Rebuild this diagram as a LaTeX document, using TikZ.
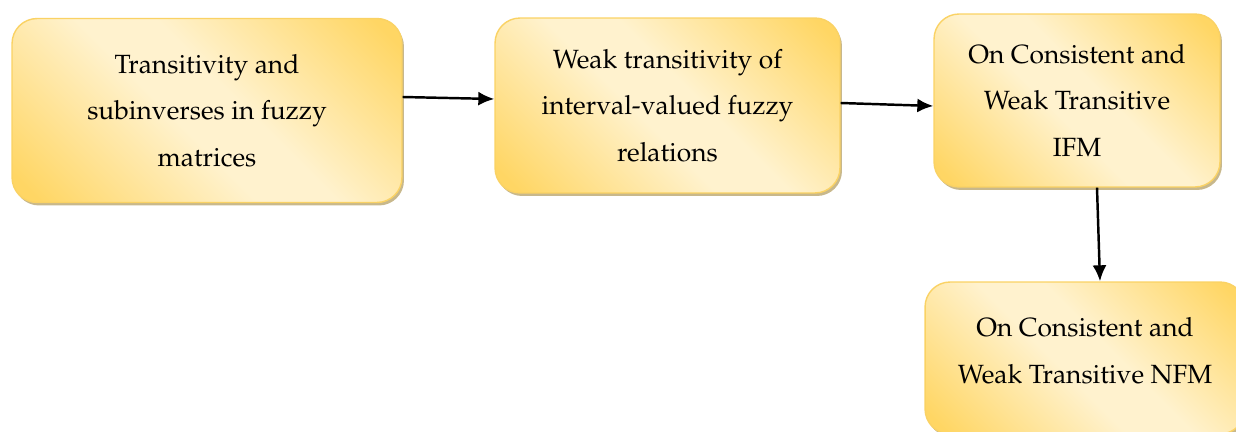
\documentclass[tikz,border=0pt]{standalone}
\usepackage[T1]{fontenc}
\usepackage{mathpazo}
\usepackage{xcolor}
\usetikzlibrary{positioning,arrows.meta,shadows}
\definecolor{golddark}{RGB}{255,214,100}
\definecolor{goldlight}{RGB}{255,242,206}
\definecolor{goldedge}{RGB}{250,210,100}
\definecolor{goldshadow}{RGB}{200,184,140}
\pgfdeclarehorizontalshading{goldband}{100bp}{color(0bp)=(golddark); color(18bp)=(golddark);
  color(45bp)=(goldlight); color(55bp)=(goldlight); color(82bp)=(golddark); color(100bp)=(golddark)}

\begin{document}
\begin{tikzpicture}[
  x=0.02cm, y=-0.02cm,
  topic/.style={draw=goldedge, line width=0.8pt, rounded corners=0.5cm, shading=goldband,
    shading angle=45, align=center, font=\fontsize{15}{26.6}\selectfont, inner sep=2pt,
    drop shadow={shadow xshift=0.04cm, shadow yshift=-0.06cm, fill=goldshadow, opacity=1}},
  arrow/.style={-{Latex[length=0.32cm, width=0.28cm]}, line width=1.4pt}
]
\useasboundingbox (0,0) rectangle (1236,432);

\node[topic, minimum width=7.8cm, minimum height=3.68cm] (fuzzy) at (207,110.5)
  {Transitivity and\\subinverses in fuzzy\\matrices};
\node[topic, minimum width=6.9cm, minimum height=3.5cm] (interval) at (667.5,105.5)
  {Weak transitivity of\\interval-valued fuzzy\\relations};
\node[topic, minimum width=5.72cm, minimum height=3.46cm] (ifm) at (1077,100.5)
  {On Consistent and\\Weak Transitive\\IFM};
\node[topic, minimum width=6.4cm, minimum height=3.04cm, text depth=0.3cm] (nfm) at (1085,358)
  {On Consistent and\\Weak Transitive NFM};

% chain of results, left to right and then down
\draw[arrow] ([yshift=0.27cm]fuzzy.east) -- ([yshift=0.13cm]interval.west);
\draw[arrow] ([yshift=0.05cm]interval.east) -- ([yshift=-0.11cm]ifm.west);
\draw[arrow] ([xshift=0.4cm]ifm.south) -- ([xshift=0.3cm]nfm.north);
\end{tikzpicture}
\end{document}
